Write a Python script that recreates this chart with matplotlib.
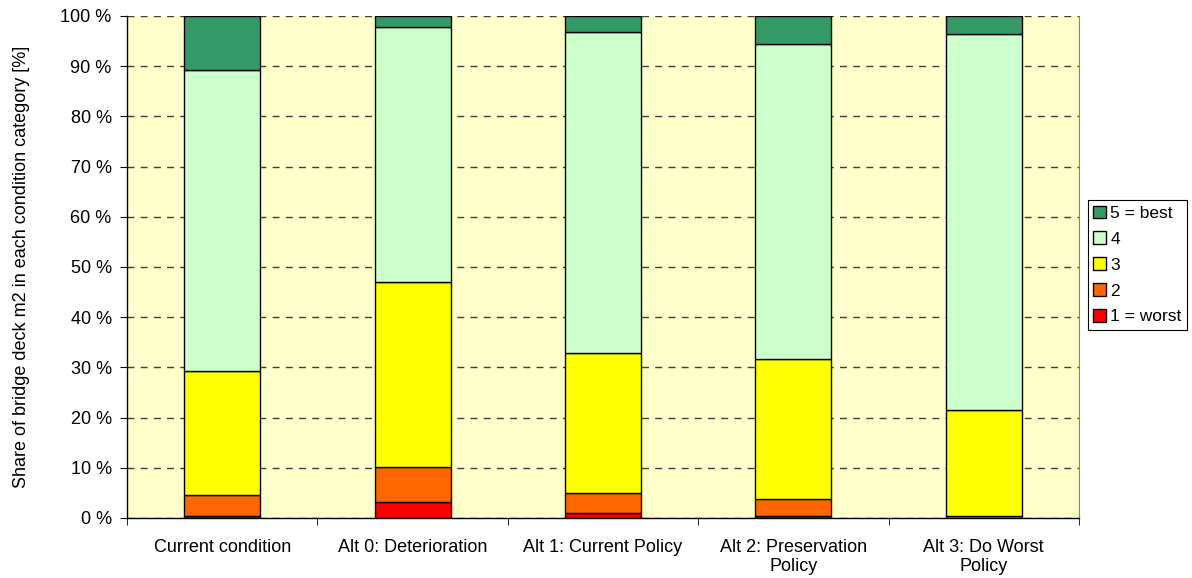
import numpy as np
import matplotlib
matplotlib.use("Agg")
import matplotlib.pyplot as plt

plt.rcParams['font.family'] = ['Liberation Sans', 'DejaVu Sans']

scenarios = ["Current condition", "Alt 0: Deterioration", "Alt 1: Current Policy",
             "Alt 2: Preservation\nPolicy", "Alt 3: Do Worst\nPolicy"]

# share of deck area per condition state, in percent
cond1 = [0.3, 3.2, 0.9, 0.3, 0.0]
cond2 = [4.2, 6.9, 4.1, 3.4, 0.3]
cond3 = [24.8, 36.9, 27.9, 27.9, 21.2]
cond4 = [60.0, 50.8, 63.9, 62.8, 75.0]
cond5 = [10.7, 2.2, 3.2, 5.6, 3.5]

series = [cond1, cond2, cond3, cond4, cond5]
labels = ["1 = worst", "2", "3", "4", "5 = best"]
colors = ["#FF0000", "#FF6600", "#FFFF00", "#CCFFCC", "#339966"]

fig = plt.figure(figsize=(11.92, 5.78), dpi=100)
ax = fig.add_axes([127 / 1192, 1 - 518 / 578, 952 / 1192, 502 / 578])
ax.set_facecolor("#FFFFCC")

x = np.arange(len(scenarios))
bottom = np.zeros(len(scenarios))
bars = []
for vals, lab, col in zip(series, labels, colors):
    b = ax.bar(x, vals, width=0.4, bottom=bottom, color=col, edgecolor="black",
               linewidth=1.0, label=lab, zorder=3)
    bars.append(b)
    bottom += np.array(vals)

ax.set_xlim(-0.5, len(scenarios) - 0.5)
ax.set_ylim(0, 100)
ax.set_yticks(np.arange(0, 101, 10))
ax.set_yticklabels([f"{v} %" for v in range(0, 101, 10)], fontsize=13)
ax.yaxis.grid(True, color="#404040", linestyle=(0, (5, 4.5)), linewidth=1.0, zorder=1)
ax.set_axisbelow(True)

ax.set_xticks(x)
ax.set_xticklabels(scenarios, fontsize=13, linespacing=1.2)
ax.set_xticks(np.arange(-0.5, len(scenarios)), minor=True)
ax.tick_params(axis="x", which="major", length=0, pad=15)
ax.tick_params(axis="x", which="minor", length=5, direction="out", color="black")
ax.tick_params(axis="y", length=5, direction="out", pad=6)

ax.set_ylabel("Share of bridge deck m2 in each condition category [%]", fontsize=13, labelpad=22)

for side in ["left", "bottom"]:
    ax.spines[side].set_color("black")
    ax.spines[side].set_linewidth(1.0)
ax.spines["right"].set_color("#808080")
ax.spines["top"].set_visible(False)

order = list(range(len(series) - 1, -1, -1))
leg = ax.legend([bars[i] for i in order], [labels[i] for i in order],
                loc="center left", bbox_to_anchor=(1.009, 0.504), fontsize=12.5,
                frameon=True, fancybox=False, edgecolor="black", framealpha=1,
                handlelength=0.75, handleheight=0.75, handletextpad=0.25,
                borderpad=0.3, labelspacing=0.6, borderaxespad=0)
leg.get_frame().set_linewidth(0.8)

fig.savefig("out.png", dpi=100)
